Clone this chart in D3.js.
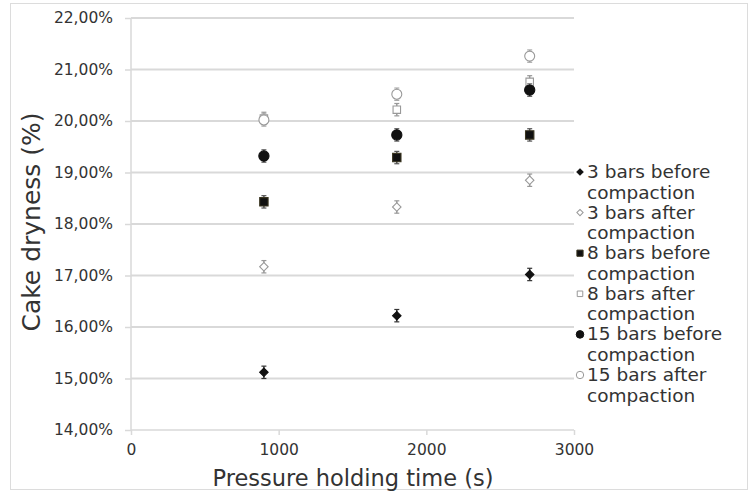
<!DOCTYPE html>
<html><head><meta charset="utf-8">
<script src="https://cdn.jsdelivr.net/npm/d3@7"></script>
<style>body{margin:0;background:#fff}svg{display:block}</style>
</head><body>
<svg id="c" width="753" height="494"></svg>
<script>
const times = [900, 1800, 2700];
const seriesNames = ["3 bars before compaction","3 bars after compaction","8 bars before compaction","8 bars after compaction","15 bars before compaction","15 bars after compaction"];
const bar3Before = [15.12, 16.22, 17.02];
const bar3After = [17.17, 18.33, 18.85];
const bar8Before = [18.43, 19.29, 19.73];
const bar8After = [20.05, 20.22, 20.76];
const bar15Before = [19.32, 19.73, 20.60];
const bar15After = [20.02, 20.52, 21.26];
const errors = [0.12, 0.12, 0.12];
const yTicks = [14,15,16,17,18,19,20,21,22];
const xTicks = [0,1000,2000,3000];

const svg = d3.select("#c");
const x = d3.scaleLinear().domain([0,3000]).range([131,574]);
const y = d3.scaleLinear().domain([14,22]).range([430,18]);
const grid = "#d9d9d9";
const font = "Tahoma, 'DejaVu Sans', sans-serif";

svg.append("rect").attr("x",10.5).attr("y",3.5).attr("width",737).attr("height",486)
  .attr("fill","none").attr("stroke","#dcdcdc");

svg.append("g").selectAll("line").data(yTicks.filter(d=>d>14)).join("line")
  .attr("x1",131).attr("x2",574).attr("y1",d=>y(d)).attr("y2",d=>y(d))
  .attr("stroke",grid).attr("stroke-width",2);

const yAxis = d3.axisLeft(y).tickValues(yTicks).tickSize(6).tickPadding(12)
  .tickFormat(d=>d3.format(".2f")(d).replace(".",",")+"%");
const gy = svg.append("g").attr("transform","translate(131,0)").call(yAxis);
gy.select(".domain").attr("stroke",grid).attr("stroke-width",1.5).attr("d","M0,18V430");
gy.selectAll(".tick line").attr("stroke",grid).attr("stroke-width",1.5);
gy.selectAll("text").attr("font-family",font).attr("font-size",15.5).attr("fill","#333");

const xAxis = d3.axisBottom(x).tickValues(xTicks).tickSize(5).tickPadding(9).tickFormat(d3.format("d"));
const gx = svg.append("g").attr("transform","translate(0,430)").call(xAxis);
gx.select(".domain").attr("stroke",grid).attr("stroke-width",1.5).attr("d","M131,0H574");
gx.selectAll(".tick line").attr("stroke",grid).attr("stroke-width",1.5);
gx.selectAll("text").attr("font-family",font).attr("font-size",15.5).attr("fill","#333");

svg.append("text").attr("transform","translate(40,222) rotate(-90)").attr("text-anchor","middle")
  .attr("font-family",font).attr("font-size",25).attr("fill","#333")
  .text("Cake dryness (%)");
svg.append("text").attr("x",353).attr("y",486).attr("text-anchor","middle")
  .attr("font-family",font).attr("font-size",22.5).attr("fill","#333")
  .text("Pressure holding time (s)");

const styles = [
  {data:bar3Before, shape:d3.symbolSquare, rot:45, size:36, fill:"#111", stroke:"#111", err:"#333"},
  {data:bar3After, shape:d3.symbolSquare, rot:45, size:36, fill:"#fff", stroke:"#999", err:"#999"},
  {data:bar8Before, shape:d3.symbolSquare, rot:0, size:70, fill:"#111", stroke:"#3a3520", err:"#555"},
  {data:bar8After, shape:d3.symbolSquare, rot:0, size:56, fill:"#fff", stroke:"#999", err:"#999"},
  {data:bar15Before, shape:d3.symbolCircle, rot:0, size:82, fill:"#111", stroke:"#111", err:"#555"},
  {data:bar15After, shape:d3.symbolCircle, rot:0, size:78, fill:"#fff", stroke:"#999", err:"#aaa"}
];
const plot = svg.append("g");
styles.forEach((s,i)=>{
  const g = plot.append("g");
  const pts = times.map((t,j)=>({t, v:s.data[j], e:errors[j]}));
  g.selectAll("line.e").data(pts).join("line").attr("class","e")
    .attr("x1",d=>x(d.t)).attr("x2",d=>x(d.t)).attr("y1",d=>y(d.v-d.e)).attr("y2",d=>y(d.v+d.e))
    .attr("stroke",s.err).attr("stroke-width",1.5);
  ["lo","hi"].forEach(k=>{
    g.selectAll("line."+k).data(pts).join("line").attr("class",k)
      .attr("x1",d=>x(d.t)-2.5).attr("x2",d=>x(d.t)+2.5)
      .attr("y1",d=>y(k==="lo"?d.v-d.e:d.v+d.e)).attr("y2",d=>y(k==="lo"?d.v-d.e:d.v+d.e))
      .attr("stroke",s.err).attr("stroke-width",1.2);
  });
  g.selectAll("path").data(pts).join("path")
    .attr("transform",d=>`translate(${x(d.t)},${y(d.v)}) rotate(${s.rot})`)
    .attr("d",d3.symbol(s.shape,s.size)).attr("fill",s.fill).attr("stroke",s.stroke).attr("stroke-width",1.1);
});

const lg = svg.append("g");
seriesNames.forEach((name,i)=>{
  const s = styles[i];
  const yy = 172 + i*40.6;
  lg.append("path").attr("transform",`translate(580,${yy}) rotate(${s.rot})`)
    .attr("d",d3.symbol(s.shape,s.size*0.55)).attr("fill",s.fill).attr("stroke",s.stroke).attr("stroke-width",1);
  const words = name.split(" ");
  const t = lg.append("text").attr("font-family",font).attr("font-size",18.5).attr("fill","#333");
  t.append("tspan").attr("x",587).attr("y",yy+6).text(words.slice(0,3).join(" "));
  t.append("tspan").attr("x",587).attr("y",yy+26.5).text(words.slice(3).join(" "));
});
</script>
</body></html>
